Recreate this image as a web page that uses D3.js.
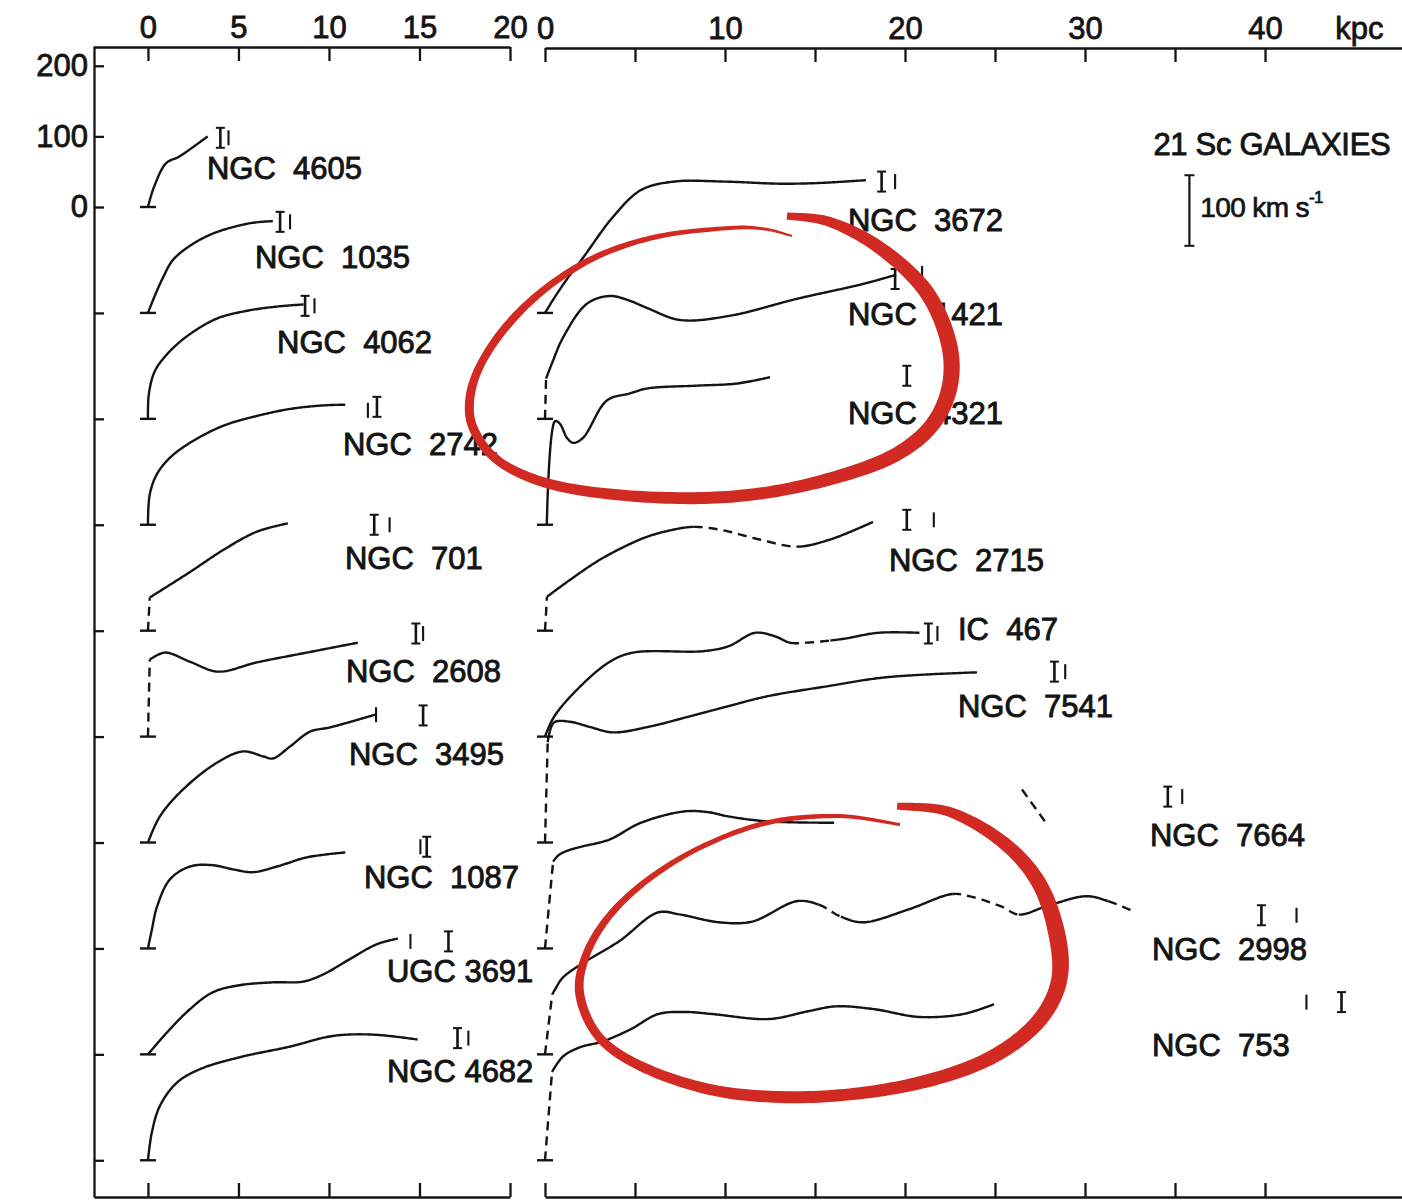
<!DOCTYPE html>
<html>
<head>
<meta charset="utf-8">
<script src="https://cdn.jsdelivr.net/npm/d3@7"></script>
<style>
  html, body { margin: 0; padding: 0; background: #fff; }
  svg text { font-family: "Liberation Sans", Arial, Helvetica, sans-serif; fill: #141414; }
</style>
</head>
<body>
<svg id="chart" width="1402" height="1200"></svg>
<script>
// rotation curves: [r kpc, v km/s above the galaxy's own zero line]
// left panel
const n4605 = [[0,0],[0.33,28],[1.0,62],[1.7,71],[2.5,85],[3.3,100]];
const n1035 = [[0,0],[0.39,25],[0.83,50],[1.38,75],[2.32,95],[3.65,113],[5.64,127],[6.9,130]];
const n4062 = [[0,0],[0.05,35],[0.39,68],[1.22,96],[2.32,120],[3.81,142],[5.47,153],[7.13,159],[8.6,162]];
const n2742 = [[0,0],[0.1,43],[0.5,72],[1.22,95],[2.32,116],[4.14,140],[6.0,154],[7.85,164],[9.67,169],[10.9,170]];
const n701  = [[0,0],[0.1,47],[2.32,83],[4.14,114],[6.0,140],[7.73,152]];
const n2608 = [[0,0],[0.1,109],[0.94,119],[2.32,106],[3.87,92],[6.0,105],[8.78,119],[11.6,133]];
const n3495 = [[0,0],[0.66,37],[1.93,75],[3.81,113],[5.25,129],[6.35,122],[6.9,119],[7.85,136],[8.95,157],[10.06,163],[12.54,181]];
const n1087 = [[0,0],[0.22,27],[0.5,59],[1.22,98],[2.32,116],[3.54,118],[4.7,112],[5.8,108],[7.13,116],[8.78,129],[10.9,136]];
const u3691 = [[0,0],[1.05,31],[2.32,64],[3.59,88],[5.08,98],[6.9,102],[8.56,103],[9.67,113],[11.16,135],[12.65,156],[13.81,164]];
const n4682 = [[0,0],[0.22,40],[0.66,77],[1.6,110],[2.87,129],[5.08,146],[7.85,161],[10.2,176],[12.4,178],[14.9,171]];
// right panel
const n3672 = [[0,0],[0.56,23],[1.28,50],[2.11,78],[3.78,136],[5.33,174],[7.17,186],[9.94,186],[13.06,183],[15.22,184],[17.83,188]];
const n1421 = [[0,0],[0.06,57],[0.44,82],[1.0,115],[2.33,163],[3.61,174],[4.72,167],[5.67,157],[7.5,140],[10.28,146],[14.0,170],[17.67,191],[19.5,204]];
const n4321 = [[0.1,0],[0.56,147],[0.83,143],[1.22,123],[1.56,116],[2.11,123],[3.44,176],[4.72,186],[5.67,193],[8.44,197],[10.67,200],[12.5,209]];
const n2715 = [[0,0],[0.11,48],[1.39,72],[2.89,98],[4.33,118],[5.67,133],[6.94,142],[8.22,147],[9.72,143],[11.94,129],[14.0,119],[15.83,129],[18.22,154]];
const i467  = [[0,0],[0.5,28],[1.8,67],[3.6,106],[4.9,119],[8.8,121],[10.2,128],[11.67,147],[12.78,142],[13.61,133],[14.5,133],[15.83,136],[16.72,139],[18.5,147],[20.8,147]];
const n7541 = [[0,0],[0.15,142],[0.5,170],[1.39,171],[2.44,164],[3.78,156],[5.78,164],[7.94,178],[10.17,193],[12.33,207],[15.61,221],[18.94,234],[24.0,241]];
const n7664 = [[0,0],[0.45,123],[0.75,132],[1.2,138],[2.0,144],[3.56,154],[5.33,178],[7.72,194],[9.06,193],[10.17,187],[12.33,180],[16.06,178]];
const n7664out = [[26.5,225],[27.94,174]];
const n2998 = [[0,0],[0.4,85],[0.56,92],[1.0,109],[2.28,132],[4.11,160],[6.28,201],[7.5,198],[9.67,187],[11.5,188],[14.0,217],[15.22,212],[16.44,195],[17.67,187],[20.17,205],[22.61,227],[23.56,224],[25.3,210],[26.33,198],[27.89,210],[30.06,224],[31.28,217],[32.83,201]];
const n753  = [[0,0],[0.39,125],[1.0,147],[1.94,160],[3.17,168],[4.72,185],[6.28,207],[7.83,210],[9.33,207],[12.44,200],[14.61,211],[16.17,218],[18.28,214],[20.78,203],[23.22,207],[24.94,221]];

// r ranges (kpc) where the curve is drawn dashed
const d701 = [[0,0.1]], d2608 = [[0,0.1]], d1421 = [[0,0.06]], d2715 = [[0,0.11],[8.22,14.0]];
const d467 = [[13.61,15.83]], d7541 = [[0,0.15]], d7664 = [[0,0.45]];
const d2998 = [[0,0.4],[15.22,16.44],[22.61,26.33],[31.28,32.83]], d753 = [[0,0.39]];

// radius markers [r kpc, v km/s, kind]
const m4605 = [[4.0,98,"I"],[4.45,98,"|"]];
const m1035 = [[7.3,129,"I"],[7.85,129,"|"]];
const m4062 = [[8.68,160,"I"],[9.2,160,"|"]];
const m2742 = [[12.15,162,"|"],[12.65,167,"I"]];
const m701  = [[12.5,150,"I"],[13.35,150,"|"]];
const m2608 = [[14.8,146,"I"],[15.2,146,"|"]];
const m3495 = [[12.6,181,"|"],[15.2,180,"I"]];
const m1087 = [[15.05,144,"|"],[15.4,144,"I"]];
const m3691 = [[14.5,160,"|"],[16.6,160,"I"]];
const m4682 = [[17.1,173,"I"],[17.7,173,"|"]];
const m3672 = [[18.7,186,"I"],[19.45,186,"|"]];
const m1421 = [[19.45,198,"I"],[20.95,206,"|"]];
const m4321 = [[20.1,211,"I"]];
const m2715 = [[20.1,157,"I"],[21.6,157,"|"]];
const m467  = [[21.3,146,"I"],[21.8,146,"|"]];
const m7541 = [[28.3,242,"I"],[28.9,242,"|"]];
const m7664 = [[34.6,215,"I"],[35.4,215,"|"]];
const m2998 = [[39.8,197,"I"],[41.75,197,"|"]];
const m753  = [[42.3,224,"|"],[44.25,224,"I"]];

const leftKpcTicks = [0, 5, 10, 15, 20];
const rightKpcTicks = [0, 5, 10, 15, 20, 25, 30, 35, 40];
const velTicks = [200, 100, 0];
const rowStep = 150; // km/s between successive zero lines

// hand drawn red rings (right panel kpc, km/s from the top zero line)
const ring1 = [[13.44,-12.7],[15.83,-21.2],[18.61,-58.1],[21.11,-117.6],[22.39,-188.4],[22.5,-252.1],[21.5,-308.8],[19.44,-351.3],[16.39,-381.0],[12.5,-403.7],[8.61,-412.2],[4.17,-407.9],[0.28,-392.4],[-2.5,-361.2],[-3.94,-315.9],[-4.17,-270.5],[-3.5,-219.5],[-1.94,-162.9],[0.28,-110.5],[3.06,-68.0],[6.39,-41.1],[10.28,-29.7],[12.22,-31.2],[13.72,-41.1]];
const ring2 = [[19.56,-848.4],[22.5,-856.9],[25.5,-900.8],[27.5,-960.3],[28.5,-1038.2],[28.5,-1102.0],[27.22,-1158.6],[24.72,-1205.4],[21.39,-1236.5],[17.5,-1255.0],[13.39,-1260.6],[9.33,-1250.7],[5.56,-1219.5],[3.06,-1177.1],[1.94,-1116.1],[2.28,-1059.5],[3.61,-1002.8],[5.83,-950.4],[8.89,-903.7],[12.5,-871.1],[16.39,-862.6],[19.72,-874.6]];
const pen1 = [7,10,13,15,16,16,15,14,13,12,12,11,10,9,9,9,8,8,7,6,5,4,3,2];
const pen2 = [7,10,13,15,17,16,15,14,13,12,12,11,10,9,9,8,7,6,5,5,4,3];

const galaxies = [
  {name:"NGC  4605", side:"L", row:0, pts:n4605, dash:[], marks:m4605, lab:[3.26,55]},
  {name:"NGC  1035", side:"L", row:1, pts:n1035, dash:[], marks:m1035, lab:[5.91,79]},
  {name:"NGC  4062", side:"L", row:2, pts:n4062, dash:[], marks:m4062, lab:[7.13,109]},
  {name:"NGC  2742", side:"L", row:3, pts:n2742, dash:[], marks:m2742, lab:[10.77,115]},
  {name:"NGC  701",  side:"L", row:4, pts:n701,  dash:d701, marks:m701, lab:[10.88,103]},
  {name:"NGC  2608", side:"L", row:5, pts:n2608, dash:d2608, marks:m2608, lab:[10.94,93]},
  {name:"NGC  3495", side:"L", row:6, pts:n3495, dash:[], marks:m3495, lab:[11.1,126]},
  {name:"NGC  1087", side:"L", row:7, pts:n1087, dash:[], marks:m1087, lab:[11.93,102]},
  {name:"UGC 3691",  side:"L", row:8, pts:u3691, dash:[], marks:m3691, lab:[13.2,118]},
  {name:"NGC 4682",  side:"L", row:9, pts:n4682, dash:[], marks:m4682, lab:[13.2,126]},
  {name:"NGC  3672", side:"R", row:1, pts:n3672, dash:[], marks:m3672, lab:[16.83,132]},
  {name:"NGC  1421", side:"R", row:2, pts:n1421, dash:d1421, marks:m1421, lab:[16.83,149]},
  {name:"NGC  4321", side:"R", row:3, pts:n4321, dash:[], marks:m4321, lab:[16.83,159]},
  {name:"NGC  2715", side:"R", row:4, pts:n2715, dash:d2715, marks:m2715, lab:[19.11,101]},
  {name:"IC  467",   side:"R", row:5, pts:i467,  dash:d467, marks:m467, lab:[22.94,152]},
  {name:"NGC  7541", side:"R", row:6, pts:n7541, dash:d7541, marks:m7541, lab:[22.94,193]},
  {name:"NGC  7664", side:"R", row:7, pts:n7664, dash:d7664, marks:m7664, lab:[33.61,161], extra:n7664out},
  {name:"NGC  2998", side:"R", row:8, pts:n2998, dash:d2998, marks:m2998, lab:[33.72,149]},
  {name:"NGC  753",  side:"R", row:9, pts:n753,  dash:d753, marks:m753, lab:[33.72,164]}
];

const ink = "#141414";
const svg = d3.select("#chart");

const xL = d3.scaleLinear().domain([-2.98, 20]).range([94, 510]);
const xR = d3.scaleLinear().domain([0, 47.61]).range([545, 1402]);
const y = d3.scaleLinear().domain([228, -1402]).range([46, 1197]);

// axes
function styleAxis(g) {
  g.attr("font-family", "Liberation Sans, Arial, sans-serif").attr("font-size", 31);
  g.selectAll("path, line").attr("stroke", ink).attr("stroke-width", 2.3);
  g.selectAll("text").attr("fill", ink).attr("stroke", ink).attr("stroke-width", 0.8);
}

svg.append("g").attr("transform", "translate(0,47)")
  .call(d3.axisTop(xL).tickValues(leftKpcTicks).tickSizeInner(-14).tickSizeOuter(0).tickPadding(9))
  .call(styleAxis);
svg.append("g").attr("transform", "translate(0,1197)")
  .call(d3.axisBottom(xL).tickValues(leftKpcTicks).tickSizeInner(-14).tickSizeOuter(0).tickFormat(""))
  .call(styleAxis);
svg.append("g").attr("transform", "translate(0,48)")
  .call(d3.axisTop(xR).tickValues(rightKpcTicks).tickSizeInner(-14).tickSizeOuter(0).tickPadding(9)
    .tickFormat(d => d % 10 === 0 ? d : ""))
  .call(styleAxis);
svg.append("g").attr("transform", "translate(0,1197)")
  .call(d3.axisBottom(xR).tickValues(rightKpcTicks).tickSizeInner(-14).tickSizeOuter(0).tickFormat(""))
  .call(styleAxis);

const rowTicks = d3.range(1, 10).map(i => -rowStep * i);
svg.append("g").attr("transform", `translate(${xL(-2.98)},0)`)
  .call(d3.axisLeft(y).tickValues(velTicks.concat(rowTicks)).tickSizeInner(-10).tickSizeOuter(0).tickPadding(6)
    .tickFormat(d => d >= 0 ? d : ""))
  .call(styleAxis);

svg.append("text").attr("x", xR(43.9)).attr("y", 48 - 9)
  .attr("font-size", 31).attr("stroke", ink).attr("stroke-width", 0.8).text("kpc");

// curves
const curveG = svg.append("g").attr("fill", "none").attr("stroke", ink).attr("stroke-width", 2.4)
  .attr("stroke-linejoin", "round").attr("stroke-linecap", "butt");

function drawGalaxy(g) {
  const xs = g.side === "L" ? xL : xR;
  const off = -rowStep * g.row;
  const line = d3.line().x(d => xs(d[0])).y(d => y(d[1] + off)).curve(d3.curveCatmullRom.alpha(0.5));
  let pts = g.pts, dash = g.dash;
  // a dashed rise from the zero line is drawn straight
  if (dash.length && dash[0][0] === 0 && dash[0][1] === pts[1][0]) {
    curveG.append("path").attr("d", d3.line().x(d => xs(d[0])).y(d => y(d[1] + off))(pts.slice(0, 2)))
      .attr("stroke-dasharray", "9,6");
    pts = pts.slice(1);
    dash = dash.slice(1);
  }
  const tmp = curveG.append("path").attr("d", line(pts));
  const node = tmp.node();
  const L = node.getTotalLength();
  const n = Math.ceil(L / 1.5);
  const samples = d3.range(n + 1).map(i => { const p = node.getPointAtLength(L * i / n); return [p.x, p.y]; });
  tmp.remove();
  const inDash = px => {
    const r = xs.invert(px);
    return dash.some(([a, b]) => r >= a - 1e-6 && r <= b + 1e-6);
  };
  // split samples into solid / dashed runs
  let runs = [], cur = null;
  for (let i = 0; i < samples.length - 1; i++) {
    const mid = (samples[i][0] + samples[i + 1][0]) / 2;
    const dd = inDash(mid);
    if (!cur || cur.dash !== dd) { cur = {dash: dd, pts: [samples[i]]}; runs.push(cur); }
    cur.pts.push(samples[i + 1]);
  }
  runs.forEach(r => {
    curveG.append("path").attr("d", d3.line()(r.pts))
      .attr("stroke-dasharray", r.dash ? "9,6" : null);
  });
  if (g.extra) {
    curveG.append("path").attr("d", line(g.extra)).attr("stroke-dasharray", "9,6");
  }
  // zero mark
  curveG.append("line")
    .attr("x1", xs(0) - 8).attr("x2", xs(0) + 8)
    .attr("y1", y(off)).attr("y2", y(off));
  // radius markers
  g.marks.forEach(([r, v, kind]) => {
    const cx = xs(r), cy = y(v + off);
    const h = kind === "I" ? 10 : 7.5;
    curveG.append("line").attr("x1", cx).attr("x2", cx).attr("y1", cy - h).attr("y2", cy + h)
      .attr("stroke-width", kind === "I" ? 2.6 : 2.1);
    if (kind === "I") {
      curveG.append("line").attr("x1", cx - 4.5).attr("x2", cx + 4.5).attr("y1", cy - h).attr("y2", cy - h).attr("stroke-width", 2);
      curveG.append("line").attr("x1", cx - 4.5).attr("x2", cx + 4.5).attr("y1", cy + h).attr("y2", cy + h).attr("stroke-width", 2);
    }
  });
  // name
  svg.append("text")
    .attr("x", xs(g.lab[0])).attr("y", y(g.lab[1] + off)).attr("dy", "0.36em")
    .attr("font-size", 31).style("white-space", "pre")
    .attr("stroke", ink).attr("stroke-width", 0.9)
    .text(g.name);
}
galaxies.forEach(drawGalaxy);

// legend
svg.append("text").attr("x", xR(33.8)).attr("y", y(90)).attr("dy", "0.36em")
  .attr("font-size", 31).attr("stroke", ink).attr("stroke-width", 0.9).attr("letter-spacing", -0.3)
  .text("21 Sc GALAXIES");
const sbx = xR(35.8);
svg.append("line").attr("x1", sbx).attr("x2", sbx).attr("y1", y(45)).attr("y2", y(-55)).attr("stroke", ink).attr("stroke-width", 2.2);
[45, -55].forEach(v => svg.append("line").attr("x1", sbx - 5).attr("x2", sbx + 5).attr("y1", y(v)).attr("y2", y(v)).attr("stroke", ink).attr("stroke-width", 2));
const sbt = svg.append("text").attr("x", xR(36.4)).attr("y", y(0)).attr("dy", "0.36em")
  .attr("font-size", 28).attr("stroke", ink).attr("stroke-width", 0.7).attr("letter-spacing", -0.6);
sbt.append("tspan").text("100 km s");
sbt.append("tspan").attr("font-size", 17).attr("dy", "-0.8em").text("-1");

// red rings drawn as pen strokes of varying width
function penStroke(pts, widths) {
  const P = pts.map((p, i) => [xR(p[0]), y(p[1]), widths[i]]);
  const out = [];
  for (let i = 0; i < P.length - 1; i++) {
    const p0 = P[Math.max(i - 1, 0)], p1 = P[i], p2 = P[i + 1], p3 = P[Math.min(i + 2, P.length - 1)];
    for (let s = 0; s < 14; s++) {
      const t = s / 14, t2 = t * t, t3 = t2 * t;
      const f = k => 0.5 * (2 * p1[k] + (-p0[k] + p2[k]) * t + (2 * p0[k] - 5 * p1[k] + 4 * p2[k] - p3[k]) * t2 + (-p0[k] + 3 * p1[k] - 3 * p2[k] + p3[k]) * t3);
      out.push([f(0), f(1), f(2)]);
    }
  }
  out.push(P[P.length - 1]);
  const left = [], right = [];
  out.forEach((p, i) => {
    const a = out[Math.max(i - 1, 0)], b = out[Math.min(i + 1, out.length - 1)];
    let dx = b[0] - a[0], dy = b[1] - a[1];
    const len = Math.hypot(dx, dy) || 1; dx /= len; dy /= len;
    const h = p[2] / 2;
    left.push([p[0] - dy * h, p[1] + dx * h]);
    right.push([p[0] + dy * h, p[1] - dx * h]);
  });
  return d3.line()(left.concat(right.reverse())) + "Z";
}
svg.append("path").attr("d", penStroke(ring1, pen1)).attr("fill", "#d02a22");
svg.append("path").attr("d", penStroke(ring2, pen2)).attr("fill", "#d02a22");
</script>
</body>
</html>
